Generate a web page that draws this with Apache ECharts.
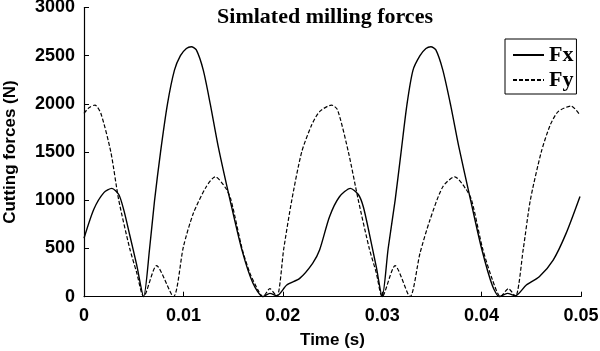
<!DOCTYPE html>
<html>
<head>
<meta charset="utf-8">
<script src="https://cdn.jsdelivr.net/npm/echarts@6/dist/echarts.min.js"></script>
<style>
  html, body { margin: 0; padding: 0; background: #fff; }
  #chart { width: 600px; height: 351px; }
</style>
</head>
<body>
<div id="chart"></div>
<script>
  // 时间 (s) 和力 (N)
  var fxTime = [0, 0.001, 0.002, 0.0028, 0.0035, 0.004, 0.0046, 0.0053, 0.006,
    0.0066, 0.0071, 0.0077, 0.0084, 0.0091, 0.0097, 0.0103, 0.0108, 0.0113, 0.012, 0.0127, 0.0135, 0.0147, 0.0159, 0.017, 0.018,
    0.0187, 0.0194, 0.0204, 0.0217, 0.023, 0.0237, 0.0247, 0.0257, 0.0268, 0.0276, 0.0281, 0.0287, 0.0294, 0.030,
    0.0306, 0.0313, 0.0319, 0.0325, 0.0331, 0.0338, 0.0344, 0.0349, 0.0354, 0.0361, 0.0369, 0.0377, 0.0389, 0.0400, 0.0411, 0.0418,
    0.0426, 0.0434, 0.0445, 0.0458, 0.0472, 0.0485, 0.0499];
  var fxValue = [606, 910, 1080, 1124, 1060, 900, 640, 330, 0,
    500, 1000, 1500, 2000, 2350, 2500, 2575, 2593, 2560, 2350, 2000, 1560, 1000, 480, 139, 0,
    35, 10, 121, 190, 346, 484, 830, 1037, 1124, 1060, 933, 657, 311, 0,
    500, 1000, 1500, 2000, 2350, 2500, 2575, 2593, 2560, 2350, 1980, 1560, 1000, 500, 110, 0,
    35, 10, 121, 207, 380, 657, 1040];

  var fyTime = [0, 0.0005, 0.0011, 0.0017, 0.0027, 0.0035, 0.0046, 0.0053, 0.006,
    0.0073, 0.009, 0.010, 0.011, 0.0123, 0.0132, 0.0143, 0.0148, 0.0159, 0.0167, 0.0175, 0.018,
    0.0187, 0.0194, 0.0201, 0.0209, 0.0219, 0.0229, 0.0237, 0.0249, 0.0255, 0.0266, 0.0276, 0.0287, 0.0294, 0.030,
    0.0313, 0.0328, 0.0338, 0.0348, 0.0361, 0.0373, 0.0384, 0.039, 0.0401, 0.0411, 0.0419,
    0.0427, 0.0434, 0.0442, 0.0449, 0.046, 0.0469, 0.0477, 0.049, 0.0499];
  var fyValue = [1902, 1960, 1988, 1900, 1500, 1000, 500, 250, 0,
    322, 0, 518, 865, 1141, 1244, 1120, 1000, 500, 242, 69, 0,
    83, 0, 500, 1000, 1500, 1780, 1920, 1988, 1940, 1500, 1000, 500, 250, 0,
    322, 0, 450, 795, 1141, 1244, 1120, 1000, 500, 173, 0,
    83, 0, 500, 1000, 1500, 1780, 1920, 1978, 1884];

  var xTicks = [0, 0.01, 0.02, 0.03, 0.04, 0.05];
  var yTicks = [0, 500, 1000, 1500, 2000, 2500, 3000];

  // 零点处重复一次, 让平滑曲线保持尖角
  function pairs(ts, vs) {
    var out = [];
    for (var i = 0; i < ts.length; i++) {
      out.push([ts[i], vs[i]]);
      if (vs[i] === 0 && i > 0 && i < ts.length - 1) out.push([ts[i], vs[i]]);
    }
    return out;
  }

  var sans = '"Liberation Sans", Arial, sans-serif';
  var serif = '"Liberation Serif", "Times New Roman", serif';

  var chart = echarts.init(document.getElementById('chart'));
  chart.setOption({
    animation: false,
    title: {
      text: 'Simlated milling forces',
      left: 320,
      top: 1,
      textAlign: 'center',
      textStyle: { fontFamily: serif, fontWeight: 'bold', fontSize: 22, color: '#000' }
    },
    legend: {
      orient: 'vertical',
      left: 505,
      top: 39,
      padding: [5, 3, 3, 7],
      itemGap: 3,
      itemWidth: 31,
      itemHeight: 14,
      borderColor: '#000',
      borderWidth: 1,
      borderRadius: 0,
      itemStyle: { opacity: 0 },
      data: ['Fx', 'Fy'],
      textStyle: { fontFamily: serif, fontWeight: 'bold', fontSize: 22, lineHeight: 22, color: '#000', padding: [0, 0, 0, 0] }
    },
    grid: { left: 84, right: 19, top: 7.5, bottom: 54.3, outerBoundsMode: 'none' },
    xAxis: {
      type: 'value',
      min: xTicks[0],
      max: xTicks[xTicks.length - 1],
      interval: 0.01,
      name: 'Time (s)',
      nameLocation: 'middle',
      nameGap: 35,
      nameTextStyle: { fontFamily: sans, fontWeight: 'bold', fontSize: 17, color: '#000' },
      axisLine: { lineStyle: { color: '#000', width: 1.2 } },
      axisTick: { inside: true, length: 5, lineStyle: { color: '#000' } },
      axisLabel: { color: '#000', fontFamily: sans, fontWeight: 'bold', fontSize: 18, margin: 10,
        formatter: function (v) { return String(v); } },
      splitLine: { show: false }
    },
    yAxis: {
      type: 'value',
      min: yTicks[0],
      max: yTicks[yTicks.length - 1],
      interval: 500,
      name: 'Cutting forces (N)',
      nameLocation: 'middle',
      nameGap: 65,
      nameTextStyle: { fontFamily: sans, fontWeight: 'bold', fontSize: 17, color: '#000' },
      axisLine: { show: true, lineStyle: { color: '#000', width: 1.2 } },
      axisTick: { show: true, inside: true, length: 5, lineStyle: { color: '#000' } },
      axisLabel: { color: '#000', fontFamily: sans, fontWeight: 'bold', fontSize: 18, margin: 9,
        formatter: function (v) { return String(v); } },
      splitLine: { show: false }
    },
    series: [{
      name: 'Fx',
      type: 'line',
      symbol: 'none',
      smooth: 0.25,
      itemStyle: { color: '#000' },
      lineStyle: { color: '#000', width: 1.4, type: 'solid' },
      data: pairs(fxTime, fxValue)
    }, {
      name: 'Fy',
      type: 'line',
      symbol: 'none',
      smooth: 0.25,
      itemStyle: { color: '#000' },
      lineStyle: { color: '#000', width: 1.2, type: [4, 2] },
      data: pairs(fyTime, fyValue)
    }]
  });
</script>
</body>
</html>
